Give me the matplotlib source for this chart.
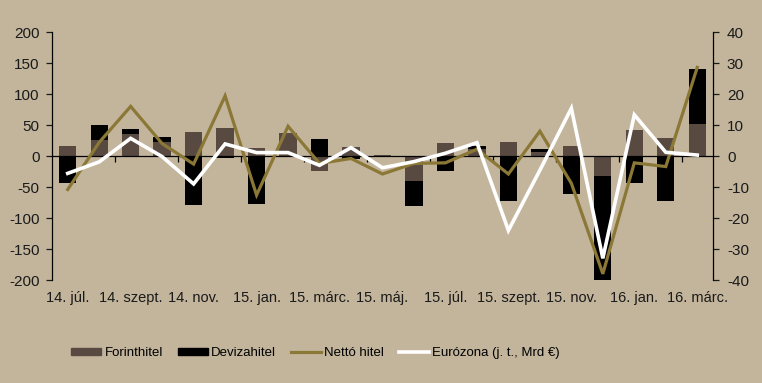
import numpy as np
import matplotlib
matplotlib.use("Agg")
import matplotlib.pyplot as plt
from matplotlib.lines import Line2D
from matplotlib.patches import Patch

plt.rcParams['font.family'] = ['Liberation Sans', 'DejaVu Sans']
plt.rcParams['axes.unicode_minus'] = False

# monthly data, 2014 July - 2016 March
months = ['14. júl.', '', '14. szept.', '', '14. nov.', '', '15. jan.', '',
          '15. márc.', '', '15. máj.', '', '15. júl.', '', '15. szept.', '',
          '15. nov.', '', '16. jan.', '', '16. márc.']
forint = [16, 26, 36, 22, 39, 45, 13, 37, -24, 15, 1, -40, 21, 12, 23, 7, 16, -32, 42, 29, 52]
deviza = [-43, 24, 8, 9, -79, -3, -77, -2, 27, -5, 0, -40, -24, 4, -72, 4, -62, -169, -43, -72, 89]
netto = [-54, 22, 80, 20, -13, 97, -63, 48, -12, -4, -29, -12, -11, 11, -29, 40, -44, -190, -11, -17, 143]
eurozona = [-5.6, -1.9, 5.7, -0.2, -9.0, 3.9, 1.1, 1.1, -3.0, 2.7, -3.8, -1.8, 0.9, 4.3, -24.0,
            -4.6, 15.4, -33.0, 13.3, 1.2, 0.3]

bg = '#c3b59c'
c_forint = '#584a41'
c_deviza = '#000000'
c_netto = '#8b7836'
c_euro = '#ffffff'
txt = '#1a1a1a'

fig = plt.figure(figsize=(7.62, 3.83), dpi=100, facecolor=bg)
ax = fig.add_axes([0.0682, 0.2689, 0.8675, 0.6475], facecolor=bg)

x = np.arange(len(months))
f = np.array(forint, dtype=float)
d = np.array(deviza, dtype=float)

# excel-style stacking: positives up from zero, negatives down from zero
f_base = np.zeros_like(f)
d_base = np.where(np.sign(d) == np.sign(f), f, 0.0)
w = 0.55
ax.bar(x, f, w, bottom=f_base, color=c_forint, zorder=2)
ax.bar(x, d, w, bottom=d_base, color=c_deviza, zorder=2)
ax.plot(x, netto, color=c_netto, lw=2.3, zorder=3, solid_joinstyle='miter')

ax.set_xlim(-0.5, len(months) - 0.5)
ax.set_ylim(-200, 200)
ax.set_yticks(np.arange(-200, 201, 50))

for s in ['top', 'right']:
    ax.spines[s].set_visible(False)
ax.spines['bottom'].set_position(('data', 0))
ax.spines['bottom'].set_linewidth(0.9)
ax.spines['left'].set_linewidth(0.9)
ax.spines['bottom'].set_zorder(2.5)

# boundary ticks on the zero line, every 2 months
ax.set_xticks(np.arange(1.5, len(months) - 1, 2))
ax.tick_params(axis='x', direction='out', length=4, width=0.9, labelbottom=False)
ax.tick_params(axis='y', direction='out', length=4, width=0.9, pad=5, labelsize=11,
               colors=txt)

# category labels at the bottom of the plot
sec = ax.secondary_xaxis('bottom')
sec.set_xticks(x[::2])
sec.set_xticklabels(months[::2])
sec.tick_params(length=0, pad=8, labelsize=10.5, colors=txt)
sec.spines['bottom'].set_visible(False)

ax2 = ax.twinx()
ax2.plot(x, eurozona, color=c_euro, lw=2.6, zorder=4, solid_joinstyle='miter')
ax2.set_ylim(-40, 40)
ax2.set_yticks(np.arange(-40, 41, 10))
for s in ['top', 'left', 'bottom']:
    ax2.spines[s].set_visible(False)
ax2.spines['right'].set_linewidth(0.9)
ax2.tick_params(axis='y', direction='out', length=4, width=0.9, pad=6, labelsize=11,
                colors=txt)

handles = [Patch(color=c_forint), Patch(color=c_deviza),
           Line2D([], [], color=c_netto, lw=2.3), Line2D([], [], color=c_euro, lw=2.6)]
labels = ['Forinthitel', 'Devizahitel', 'Nettó hitel', 'Eurózona (j. t., Mrd €)']
fig.legend(handles, labels, loc='center', bbox_to_anchor=(0.414, 0.078), ncol=4,
           frameon=False, fontsize=9.5, handlelength=2.3, handleheight=0.45,
           handletextpad=0.25, columnspacing=1.1)

fig.savefig('out.png', dpi=100, facecolor=bg)
